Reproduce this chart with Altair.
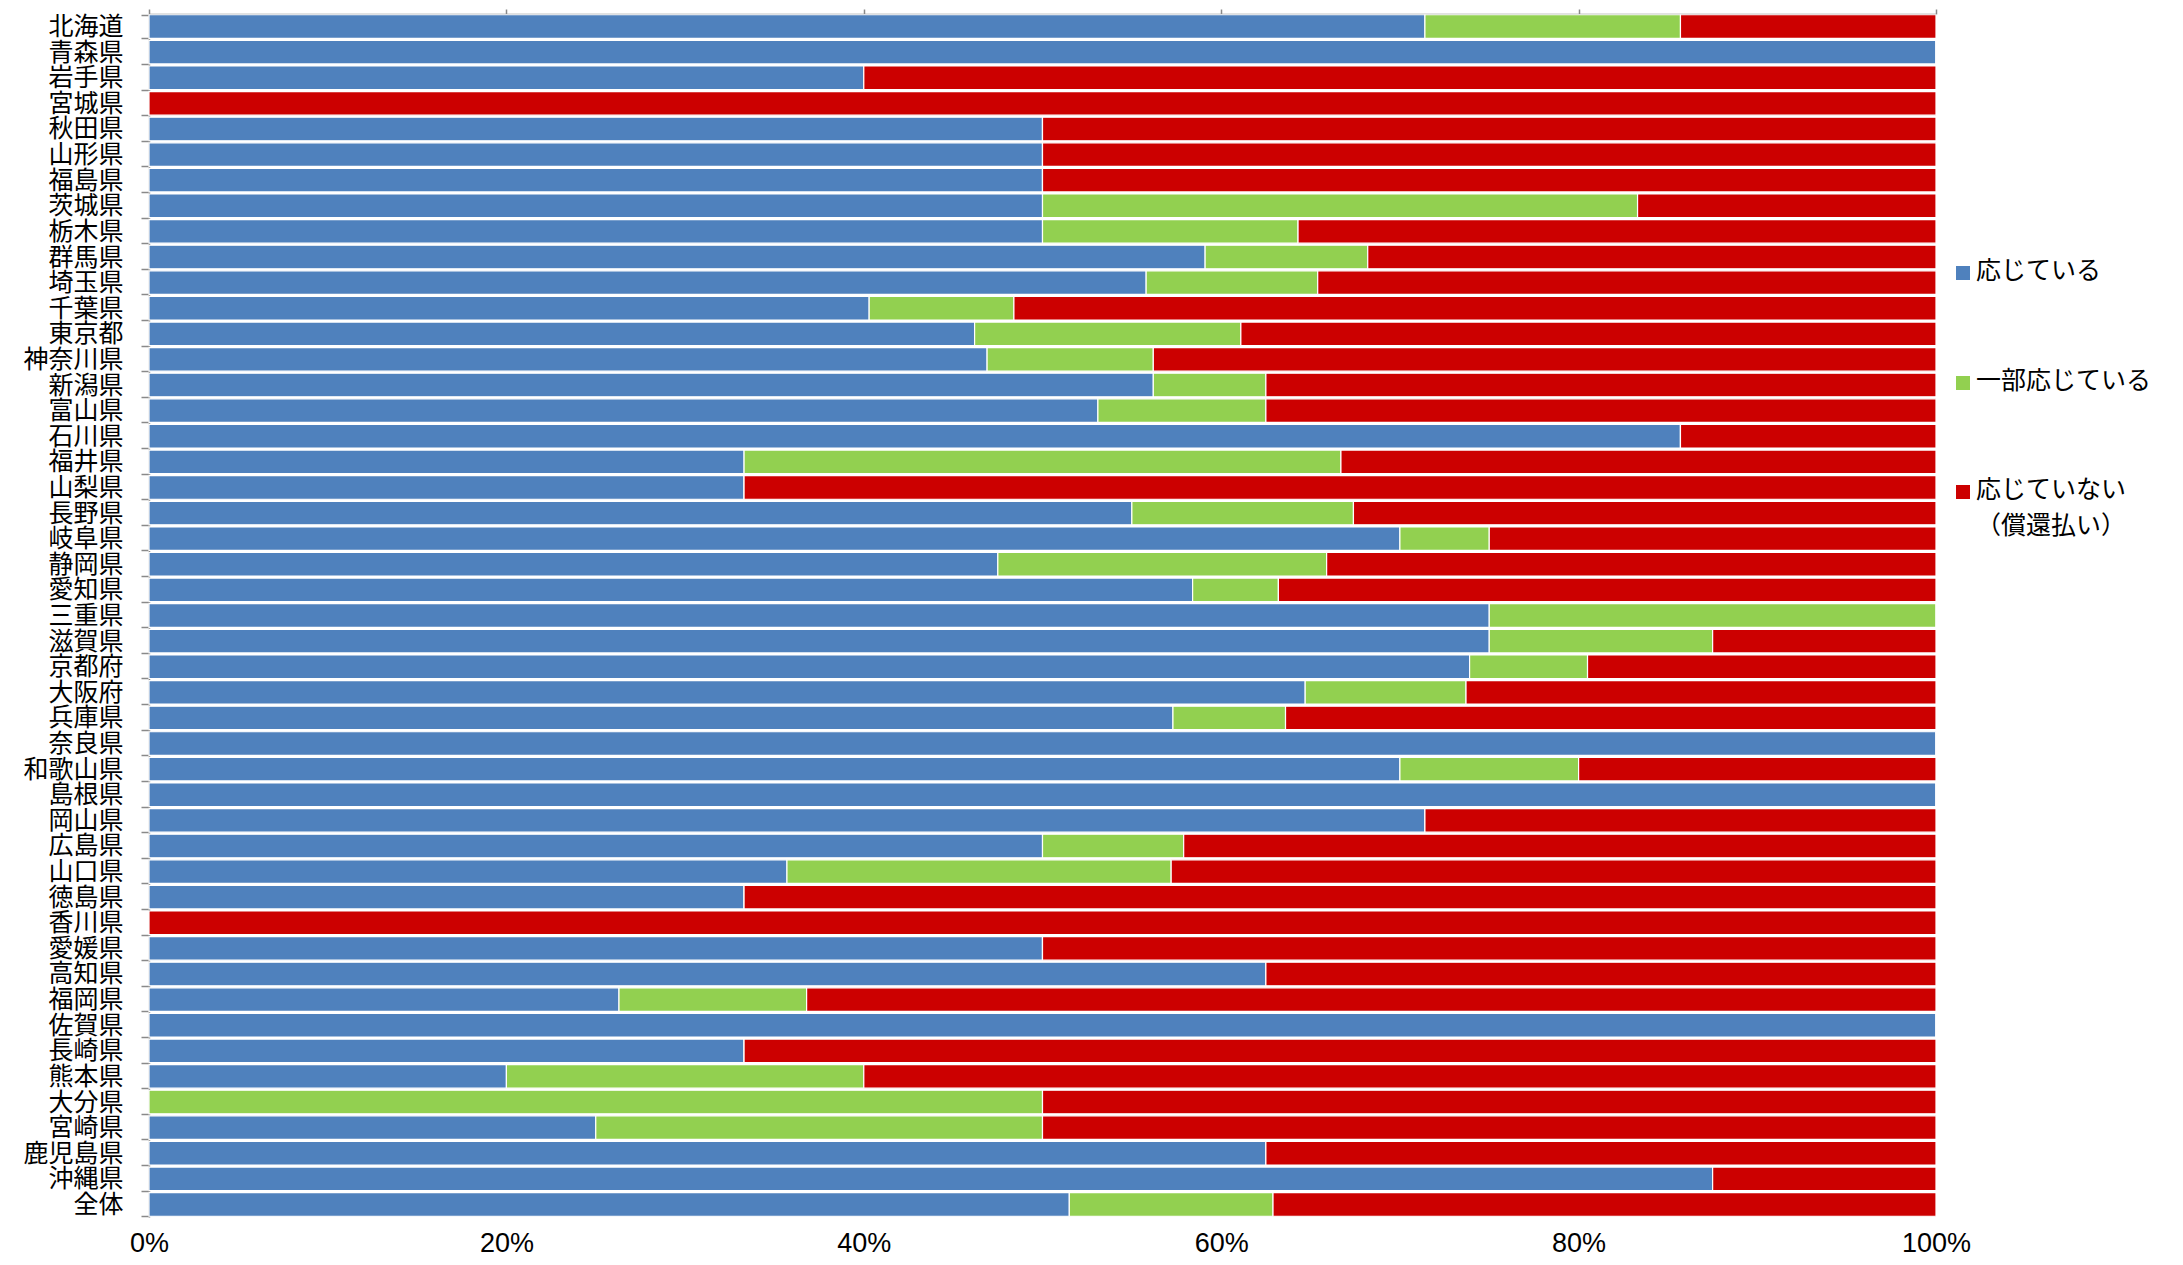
import altair as alt
import pandas as pd

prefs = ["北海道", "青森県", "岩手県", "宮城県", "秋田県", "山形県", "福島県", "茨城県", "栃木県", "群馬県",
         "埼玉県", "千葉県", "東京都", "神奈川県", "新潟県", "富山県", "石川県", "福井県", "山梨県", "長野県",
         "岐阜県", "静岡県", "愛知県", "三重県", "滋賀県", "京都府", "大阪府", "兵庫県", "奈良県", "和歌山県",
         "島根県", "岡山県", "広島県", "山口県", "徳島県", "香川県", "愛媛県", "高知県", "福岡県", "佐賀県",
         "長崎県", "熊本県", "大分県", "宮崎県", "鹿児島県", "沖縄県", "全体"]

ok = [71.4, 100, 40, 0, 50, 50, 50, 50, 50, 59.1,
      55.8, 40.3, 46.2, 46.9, 56.2, 53.1, 85.7, 33.3, 33.3, 55.0,
      70.0, 47.5, 58.4, 75.0, 75.0, 73.9, 64.7, 57.3, 100, 70.0,
      100, 71.4, 50.0, 35.7, 33.3, 0, 50, 62.5, 26.3, 100,
      33.3, 20.0, 0, 25.0, 62.5, 87.5, 51.5]

partial = [14.3, 0, 0, 0, 0, 0, 0, 33.3, 14.3, 9.1,
           9.6, 8.1, 14.9, 9.3, 6.3, 9.4, 0, 33.4, 0, 12.4,
           5.0, 18.4, 4.8, 25.0, 12.5, 6.6, 9.0, 6.3, 0, 10.0,
           0, 0, 7.9, 21.5, 0, 0, 0, 0, 10.5, 0,
           0, 20.0, 50.0, 25.0, 0, 0, 11.4]

no = [14.3, 0, 60, 100, 50, 50, 50, 16.7, 35.7, 31.8,
      34.6, 51.6, 38.9, 43.8, 37.5, 37.5, 14.3, 33.3, 66.7, 32.6,
      25.0, 34.1, 36.8, 0, 12.5, 19.5, 26.3, 36.4, 0, 20.0,
      0, 28.6, 42.1, 42.8, 66.7, 100, 50, 37.5, 63.2, 0,
      66.7, 60.0, 50.0, 50.0, 37.5, 12.5, 37.1]

series = ["応じている", "一部応じている", "応じていない\n（償還払い）"]
colors = ["#4F81BD", "#92D050", "#CC0000"]
x_ticks = [0, 0.2, 0.4, 0.6, 0.8, 1.0]

rows = []
for i, p in enumerate(prefs):
    for k, (s, vals) in enumerate(zip(series, [ok, partial, no])):
        rows.append({"pref": p, "series": s, "value": vals[i], "ord": k})
df = pd.DataFrame(rows)

grey = "#898989"
color_scale = alt.Scale(domain=series, range=colors)

y_axis = alt.Axis(labelFont="Noto Sans CJK JP", labelFontSize=25, labelColor="black",
                  labelPadding=18, tickBand="extent", tickSize=8, tickColor=grey,
                  domainColor=grey, domainWidth=1.5, tickWidth=1.5)
y_enc = alt.Y("pref:N", sort=prefs, title=None,
              scale=alt.Scale(paddingInner=0.08, paddingOuter=0.03), axis=y_axis)

bars = alt.Chart(df).mark_bar(stroke="white", strokeWidth=1.2).encode(
    y=y_enc,
    x=alt.X("value:Q", stack="normalize", title=None,
            scale=alt.Scale(domain=[0, 1]),
            axis=alt.Axis(orient="bottom", values=x_ticks, format=".0%",
                          labelFont="Liberation Sans", labelFontSize=27, labelColor="black",
                          labelFlush=False, ticks=False, domain=False, grid=False,
                          labelPadding=13)),
    color=alt.Color("series:N", scale=color_scale, legend=None),
    order=alt.Order("ord:Q"),
)

top = alt.Chart(df).mark_tick(opacity=0).encode(
    x=alt.X("value:Q", stack="normalize", title=None,
            scale=alt.Scale(domain=[0, 1]),
            axis=alt.Axis(orient="top", values=x_ticks, labels=False,
                          ticks=True, tickSize=5, tickColor=grey, domainColor=grey,
                          domainWidth=1.5, tickWidth=1.5, grid=False)),
    y=y_enc,
)

# legend drawn with the series names and colours
legend_layers = []
legend_y = [259, 369, 478]
for s, ly in zip(series, legend_y):
    src = alt.Data(values=[{"s": s}])
    sq = alt.Chart(src).mark_square(size=196, opacity=1).encode(
        x=alt.value(1814), y=alt.value(ly),
        color=alt.Color("s:N", scale=color_scale, legend=None),
    )
    tx = alt.Chart(src).mark_text(align="left", baseline="top", lineBreak="\n", lineHeight=36,
                                  font="Noto Sans CJK JP", fontSize=25, color="black").encode(
        x=alt.value(1827), y=alt.value(ly - 14), text="s:N",
    )
    legend_layers += [sq, tx]

chart = alt.layer(bars, top, *legend_layers).resolve_axis(x="independent").properties(
    width=1787, height=1203,
    autosize=alt.AutoSizeParams(type="none"),
    padding={"left": 141, "top": 6, "right": 239, "bottom": 40},
).configure_view(stroke=None)

chart.save("out.html", embed_options={"renderer": "svg", "actions": False})
